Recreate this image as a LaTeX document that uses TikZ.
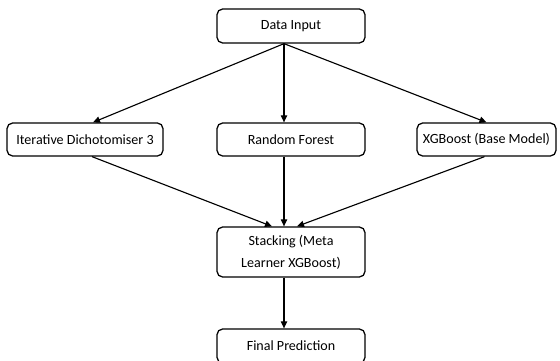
\documentclass[tikz,border=0pt]{standalone}
\usepackage{fontspec}
\setmainfont{Carlito}
\usepackage{tikz}
\usetikzlibrary{positioning,arrows.meta}

\tikzset{
    box/.style={draw, rounded corners=4pt, line width=0.9pt, minimum width=3.7cm, minimum height=0.85cm,
    align=center, font=\fontsize{10}{15.5}\selectfont},
    flow/.style={-{Triangle[length=5pt,width=4.5pt]}, line width=0.8pt}
}

\begin{document}
\begin{tikzpicture}
            \useasboundingbox (0,0) rectangle (14,-9);

            \node[box] (input) at (7.275, -0.65) {Data Input};
            \node[box, minimum width=3.9cm, minimum height=0.825cm] (id3) at (2.125, -3.4875) {Iterative Dichotomiser 3};
            \node[box, minimum height=0.825cm] (rf) at (7.275, -3.4875) {Random Forest};
            \node[box, minimum width=3.475cm, minimum height=0.825cm] (xgb) at (12.1625, -3.4875) {XGBoost (Base Model)};
            \node[box, minimum height=1.25cm] (stack) at (7.275, -6.3) {Stacking (Meta\\ Learner XGBoost)};
            \node[box] (final) at (7.275, -8.65) {Final Prediction};

            \draw[flow] ([xshift=-0.175cm]input.south) -- ([xshift=0.2cm]id3.north);
            \draw[flow] ([xshift=-0.175cm]input.south) -- ([xshift=-0.175cm]rf.north);
            \draw[flow] ([xshift=-0.175cm]input.south) -- (xgb.north);
            \draw[flow] ([xshift=0.175cm]id3.south) -- ([xshift=-0.475cm]stack.north);
            \draw[flow] ([xshift=-0.175cm]rf.south) -- ([xshift=-0.175cm]stack.north);
            \draw[flow] ([xshift=-0.05cm]xgb.south) -- ([xshift=0.15cm]stack.north);
            \draw[flow] ([xshift=-0.175cm]stack.south) -- ([xshift=-0.175cm]final.north);
        \end{tikzpicture}
\end{document}
